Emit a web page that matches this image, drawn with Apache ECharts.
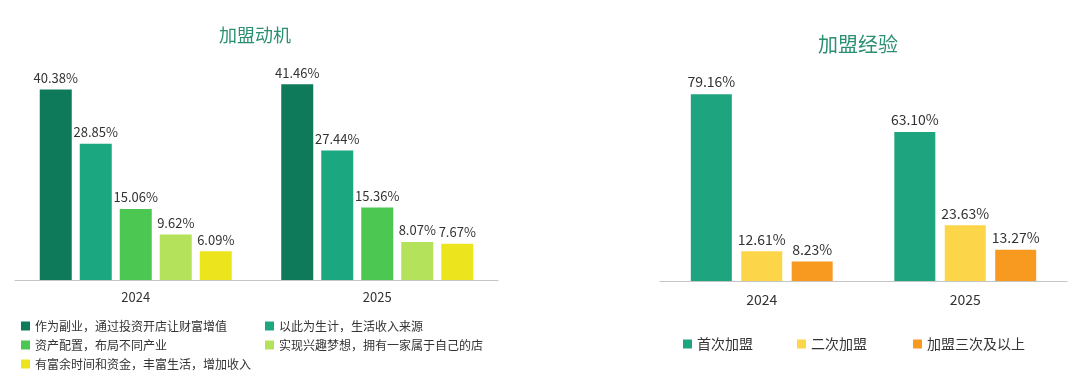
<!DOCTYPE html>
<html>
<head>
<meta charset="utf-8">
<script src="https://cdn.jsdelivr.net/npm/echarts@6/dist/echarts.min.js"></script>
<style>
html,body{margin:0;padding:0;background:#fff;}
#c{width:1080px;height:392px;}
</style>
</head>
<body>
<div id="c"></div>
<script>
const years = ['2024', '2025'];
const motiveNames = [
  '作为副业，通过投资开店让财富增值',
  '以此为生计，生活收入来源',
  '资产配置，布局不同产业',
  '实现兴趣梦想，拥有一家属于自己的店',
  '有富余时间和资金，丰富生活，增加收入'
];
const motiveSideline = [40.38, 41.46];
const motiveLiving = [28.85, 27.44];
const motiveAsset = [15.06, 15.36];
const motiveDream = [9.62, 8.07];
const motiveSpare = [6.09, 7.67];

const expNames = ['首次加盟', '二次加盟', '加盟三次及以上'];
const expFirst = [79.16, 63.10];
const expSecond = [12.61, 23.63];
const expThird = [8.23, 13.27];

const motiveColors = ['#0f7a5a', '#1ba780', '#4cc752', '#b4e25a', '#ece41c'];
const expColors = ['#1ea47f', '#fdd548', '#f89a1f'];
const FONT = '"Noto Sans CJK SC", "Noto Sans", sans-serif';

const chart = echarts.init(document.getElementById('c'));
const pct = p => p.value.toFixed(2) + '%';

const motiveData = [motiveSideline, motiveLiving, motiveAsset, motiveDream, motiveSpare];
const expData = [expFirst, expSecond, expThird];

const series = [];
motiveData.forEach((d, i) => {
  series.push({
    type: 'bar', name: motiveNames[i], xAxisIndex: 0, yAxisIndex: 0,
    data: d, barWidth: 32, barGap: '25%',
    itemStyle: { color: motiveColors[i] },
    label: { show: true, position: 'top', distance: 5, formatter: pct,
      color: '#333', fontSize: 13, fontFamily: FONT }
  });
});
expData.forEach((d, i) => {
  series.push({
    type: 'bar', name: expNames[i], xAxisIndex: 1, yAxisIndex: 1,
    data: d, barWidth: 41, barGap: '23%',
    itemStyle: { color: expColors[i] },
    label: { show: true, position: 'top', distance: 5, formatter: pct,
      color: '#333', fontSize: 14, fontFamily: FONT }
  });
});

function legendItem(name, color, left, top, size) {
  return {
    data: [{ name: name, icon: 'rect', itemStyle: { color: color } }],
    left: left, top: top, padding: 0, itemWidth: 9, itemHeight: 9,
    selectedMode: false,
    textStyle: { fontSize: size, color: '#333', fontFamily: FONT }
  };
}

const legends = [
  legendItem(motiveNames[0], motiveColors[0], 21, 320, 12),
  legendItem(motiveNames[1], motiveColors[1], 265, 320, 12),
  legendItem(motiveNames[2], motiveColors[2], 21, 339, 12),
  legendItem(motiveNames[3], motiveColors[3], 265, 339, 12),
  legendItem(motiveNames[4], motiveColors[4], 21, 358, 12),
  legendItem(expNames[0], expColors[0], 683, 337, 14),
  legendItem(expNames[1], expColors[1], 797, 337, 14),
  legendItem(expNames[2], expColors[2], 913, 337, 14)
];

chart.setOption({
  backgroundColor: '#fff',
  animation: false,
  title: [
    { text: '加盟动机', left: 255, top: 26, padding: 0, textAlign: 'center',
      textStyle: { color: '#2b8f72', fontSize: 18, fontWeight: 'normal', fontFamily: FONT } },
    { text: '加盟经验', left: 858, top: 34, padding: 0, textAlign: 'center',
      textStyle: { color: '#2b8f72', fontSize: 20, fontWeight: 'normal', fontFamily: FONT } }
  ],
  legend: legends,
  grid: [
    { left: 15, right: 582, top: 44, bottom: 112 },
    { left: 660, right: 13, top: 45, bottom: 111 }
  ],
  xAxis: [
    { type: 'category', gridIndex: 0, data: years,
      axisLine: { lineStyle: { color: '#c4c4c4', width: 1 } }, axisTick: { show: false },
      axisLabel: { color: '#333', fontSize: 13, margin: 11, fontFamily: FONT } },
    { type: 'category', gridIndex: 1, data: years,
      axisLine: { lineStyle: { color: '#c4c4c4', width: 1 } }, axisTick: { show: false },
      axisLabel: { color: '#333', fontSize: 14, margin: 12, fontFamily: FONT } }
  ],
  yAxis: [
    { type: 'value', gridIndex: 0, min: 0, max: 50, show: false, splitLine: { show: false } },
    { type: 'value', gridIndex: 1, min: 0, max: 100, show: false, splitLine: { show: false } }
  ],
  series: series
});
</script>
</body>
</html>
